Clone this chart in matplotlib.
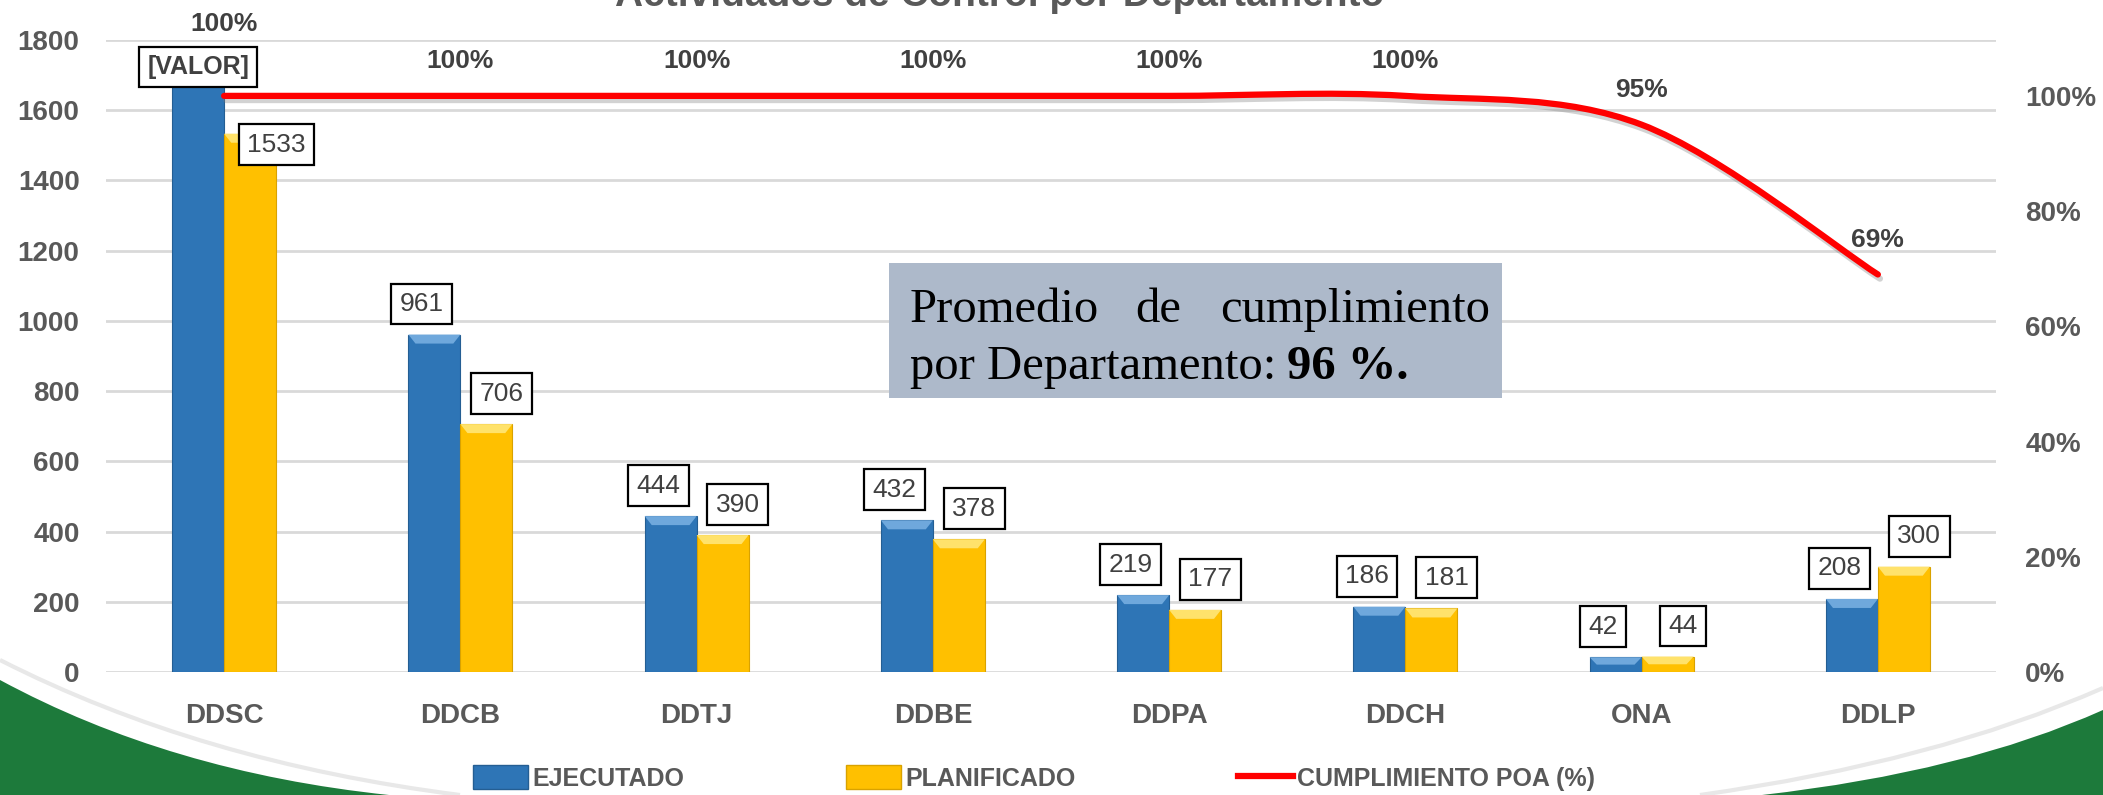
import matplotlib
matplotlib.use('Agg')
import matplotlib.pyplot as plt
import matplotlib.patheffects as pe
import numpy as np
from matplotlib import font_manager
from matplotlib.path import Path
from matplotlib.patches import PathPatch, Rectangle, Patch, Polygon
from matplotlib.lines import Line2D

# datos
departamentos = ['DDSC', 'DDCB', 'DDTJ', 'DDBE', 'DDPA', 'DDCH', 'ONA', 'DDLP']
ejecutado = [1700, 961, 444, 432, 219, 186, 42, 208]
planificado = [1533, 706, 390, 378, 177, 181, 44, 300]
cumplimiento = [1.00, 1.00, 1.00, 1.00, 1.00, 1.00, 0.95, 0.69]
etiq_ejecutado = ['[VALOR]', '961', '444', '432', '219', '186', '42', '208']
etiq_planificado = ['1533', '706', '390', '378', '177', '181', '44', '300']

W, H = 2103, 795
nombres = {f.name for f in font_manager.fontManager.ttflist}
SANS = 'Liberation Sans' if 'Liberation Sans' in nombres else 'DejaVu Sans'
NARROW = 'Liberation Sans Narrow' if 'Liberation Sans Narrow' in nombres else SANS
SERIF = 'Liberation Serif' if 'Liberation Serif' in nombres else 'DejaVu Serif'
plt.rcParams['font.family'] = [SANS, 'DejaVu Sans']

GRIS = '#595959'
OSCURO = '#404040'
AZUL, AZUL_CLARO, AZUL_BORDE = '#2E75B6', '#6FA8DC', '#245E93'
AMARILLO, AMARILLO_CLARO, AMARILLO_BORDE = '#FFC000', '#FFE26B', '#D9A200'


def px(x, y):
    return (x / W, 1 - y / H)


fig = plt.figure(figsize=(W / 100, H / 100), dpi=100)

# decoracion verde de fondo
for p0, c, p1, esquina in [((0, 680), (170, 772), (389, 795), (0, 795)),
                          ((2103, 710), (1965, 772), (1762, 795), (2103, 795))]:
    verts = [px(*p0), px(*c), px(*p1), px(*esquina), px(*p0)]
    codes = [Path.MOVETO, Path.CURVE3, Path.CURVE3, Path.LINETO, Path.CLOSEPOLY]
    fig.patches.append(PathPatch(Path(verts, codes), transform=fig.transFigure,
                                 fc='#1D7A3B', ec='none', zorder=-2))
for p0, c, p1 in [((0, 660), (200, 762), (460, 795)),
                  ((2103, 688), (1935, 762), (1700, 795))]:
    verts = [px(*p0), px(*c), px(*p1)]
    codes = [Path.MOVETO, Path.CURVE3, Path.CURVE3]
    fig.patches.append(PathPatch(Path(verts, codes), transform=fig.transFigure,
                                 fc='none', ec='#E8E8E8', lw=3, zorder=-2))

ax = fig.add_axes([106 / W, 1 - 672 / H, 1890 / W, 632 / H])
ax.patch.set_alpha(0)
ax2 = ax.twinx()

x = np.arange(len(departamentos))
w = 0.22
b1 = ax.bar(x - w / 2, ejecutado, w, color=AZUL, ec=AZUL_BORDE, lw=0.8, zorder=3)
b2 = ax.bar(x + w / 2, planificado, w, color=AMARILLO, ec=AMARILLO_BORDE, lw=0.8, zorder=3)

ax.set_xlim(-0.5, len(departamentos) - 0.5)
ax.set_ylim(0, 1800)

# bisel claro en la parte superior de cada barra
bisel_h = 9 * 1800 / 632
bisel_x = 0.03
for barras, claro in [(b1, AZUL_CLARO), (b2, AMARILLO_CLARO)]:
    for r in barras:
        x0, x1, h = r.get_x(), r.get_x() + r.get_width(), r.get_height()
        d = min(bisel_h, h * 0.5)
        ax.add_patch(Polygon([(x0, h), (x1, h), (x1 - bisel_x, h - d), (x0 + bisel_x, h - d)],
                             closed=True, fc=claro, ec='none', zorder=3.5))

ax.set_yticks(range(0, 1801, 200))
ax.set_xticks(x)
ax.set_xticklabels(departamentos)
ax.grid(axis='y', color='#D9D9D9', lw=2)
ax.set_axisbelow(True)
for a in (ax, ax2):
    for s in a.spines.values():
        s.set_visible(False)
ax.tick_params(axis='y', length=0, labelsize=20, labelcolor=GRIS, pad=19)
ax.tick_params(axis='x', length=0, labelsize=20, labelcolor=GRIS, pad=22)
for t in ax.get_xticklabels() + ax.get_yticklabels():
    t.set_fontweight('bold')

ax2.set_ylim(0, 1.097)
ax2.set_yticks(np.arange(0, 1.01, 0.2))
ax2.set_yticklabels([f'{v:.0%}' for v in np.arange(0, 1.01, 0.2)],
                    fontweight='bold')
ax2.tick_params(axis='y', length=0, labelsize=20, labelcolor=GRIS, pad=21)

# linea suavizada de cumplimiento
P = np.column_stack([x, cumplimiento]).astype(float)
n = len(P)
verts = [P[0]]
codes = [Path.MOVETO]
for i in range(n - 1):
    a = P[i - 1] if i > 0 else P[i]
    d = P[i + 2] if i + 2 < n else P[i + 1]
    verts += [P[i] + (P[i + 1] - a) / 6, P[i + 1] - (d - P[i]) / 6, P[i + 1]]
    codes += [Path.CURVE4] * 3
linea = PathPatch(Path(verts, codes), transform=ax2.transData, fill=False,
                  ec='#FF0000', lw=4.5, capstyle='round', zorder=4,
                  path_effects=[pe.SimpleLineShadow(offset=(1.5, -3), shadow_color='#808080', alpha=0.35),
                                pe.Normal()])
ax2.add_patch(linea)

for i, v in enumerate(cumplimiento):
    dy = 52 if i == 0 else 25
    ax2.annotate(f'{v:.0%}', (x[i], v), xytext=(0, dy), textcoords='offset points',
                 ha='center', va='center', fontsize=19, fontweight='bold', color=OSCURO)

# etiquetas de barras
caja = dict(boxstyle='square,pad=0.32', fc='white', ec='black', lw=1.6)
for i in range(n):
    dx, dy = (0, 6) if i == 0 else (-9, 22)
    ax2.annotate(etiq_ejecutado[i], (x[i] - w / 2, ejecutado[i]), xycoords=ax.transData,
                 xytext=(dx, dy), textcoords='offset points', ha='center', va='center',
                 fontsize=18 if i == 0 else 19, fontweight='bold' if i == 0 else 'normal',
                 family=[NARROW, 'DejaVu Sans'], color=OSCURO, bbox=caja, zorder=5)
    dx, dy = (19, -8) if i == 0 else (11, 22)
    ax2.annotate(etiq_planificado[i], (x[i] + w / 2, planificado[i]), xycoords=ax.transData,
                 xytext=(dx, dy), textcoords='offset points', ha='center', va='center',
                 fontsize=19, family=[NARROW, 'DejaVu Sans'], color=OSCURO, bbox=caja, zorder=5)

# titulo (cortado arriba, como en el original)
fig.text(1000 / W, 1 - 6 / H, 'Actividades de Control por Departamento', ha='center',
         va='baseline', fontsize=28, fontweight='bold', color=GRIS)

# recuadro de promedio
fig.patches.append(Rectangle(px(889, 398), 613 / W, 135 / H, transform=fig.transFigure,
                             fc='#ADB9CA', ec='none', zorder=5))
fs = 35
fig.text(910 / W, 1 - 322 / H, 'Promedio', family=SERIF, fontsize=fs, va='baseline', zorder=6)
fig.text(1158 / W, 1 - 322 / H, 'de', family=SERIF, fontsize=fs, va='baseline', ha='center', zorder=6)
fig.text(1490 / W, 1 - 322 / H, 'cumplimiento', family=SERIF, fontsize=fs, va='baseline',
         ha='right', zorder=6)
fig.text(910 / W, 1 - 379 / H, 'por Departamento:', family=SERIF, fontsize=fs, va='baseline', zorder=6)
fig.text(1287 / W, 1 - 379 / H, '96 %.', family=SERIF, fontsize=fs, fontweight='bold',
         va='baseline', zorder=6)

# leyenda
handles = [Patch(fc=AZUL, ec=AZUL_BORDE), Patch(fc=AMARILLO, ec=AMARILLO_BORDE),
           Line2D([], [], color='#FF0000', lw=4.5)]
labels = ['EJECUTADO', 'PLANIFICADO', 'CUMPLIMIENTO POA (%)']
fig.legend(handles, labels, loc='center', bbox_to_anchor=(1034 / W, 17 / H), ncol=3,
           frameon=False, prop={'weight': 'bold', 'size': 18}, labelcolor=GRIS,
           handlelength=2.2, handleheight=1.1, columnspacing=6.5, handletextpad=0.15)

fig.savefig('out.png', dpi=100)
